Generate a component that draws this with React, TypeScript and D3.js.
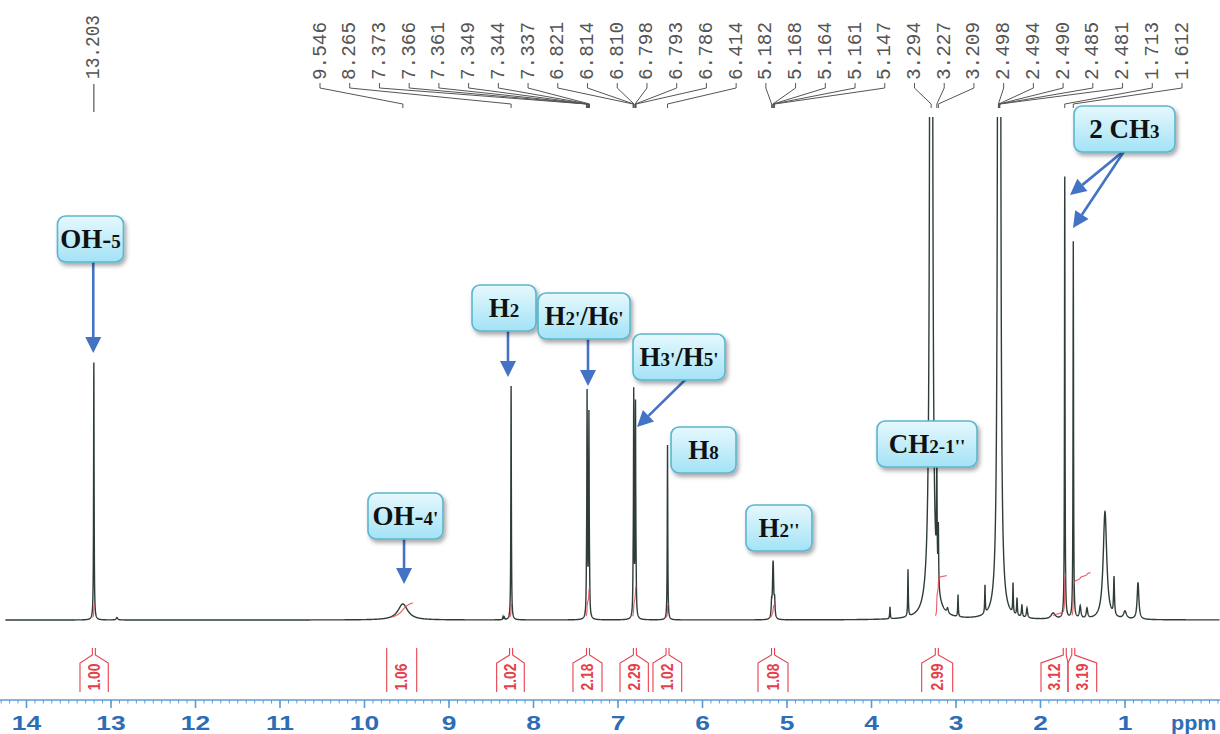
import * as d3 from "d3";

const W = 1220;
const H = 734;

// axis ticks (ppm)
const ppmTicks = [14, 13, 12, 11, 10, 9, 8, 7, 6, 5, 4, 3, 2, 1];

// [shift ppm, height (100 = top of plot), half width ppm]
const signalPeaks: [number, number, number][] = [
  [13.203, 51.5, 0.0035],
  [12.93, 0.5, 0.01],
  [9.546, 3.2, 0.07],
  [8.36, 0.6, 0.004],
  [8.345, 0.5, 0.004],
  [8.265, 46.8, 0.0035],
  [7.373, 5, 0.0035],
  [7.366, 42, 0.0035],
  [7.361, 6, 0.0035],
  [7.349, 5, 0.0035],
  [7.344, 38, 0.0035],
  [7.337, 5, 0.0035],
  [6.821, 5, 0.0035],
  [6.814, 42, 0.0035],
  [6.81, 5, 0.0035],
  [6.798, 5, 0.0035],
  [6.793, 40, 0.0035],
  [6.786, 5, 0.0035],
  [6.414, 35, 0.0035],
  [5.182, 3, 0.006],
  [5.168, 5, 0.006],
  [5.164, 4.5, 0.006],
  [5.161, 4, 0.006],
  [5.147, 3.5, 0.006],
  [3.781, 2.4, 0.004],
  [3.568, 9.4, 0.004],
  [3.227, 22, 0.004],
  [3.209, 12, 0.004],
  [3.1, 1, 0.01],
  [2.976, 4.4, 0.004],
  [2.657, 5.6, 0.004],
  [2.325, 6, 0.004],
  [2.278, 3.5, 0.005],
  [2.22, 2.5, 0.006],
  [2.16, 2, 0.008],
  [1.85, 1.2, 0.03],
  [1.713, 88.4, 0.0035],
  [1.612, 75.4, 0.0035],
  [1.53, 2.5, 0.01],
  [1.45, 2, 0.01],
  [1.237, 21.6, 0.025],
  [1.13, 7.6, 0.006],
  [1.0, 1.5, 0.02],
  [0.846, 7.4, 0.012],
];

// water and DMSO-d5 (off scale)
const solventPeaks: [number, number, number][] = [
  [3.294, 3000, 0.0035],
  [3.3, 6, 0.05],
  [2.498, 400, 0.0025],
  [2.494, 1400, 0.0025],
  [2.49, 2200, 0.0025],
  [2.485, 1400, 0.0025],
  [2.481, 400, 0.0025],
];

const isolatedLabel = "13.203";
const peakLabels = [
  "9.546", "8.265", "7.373", "7.366", "7.361", "7.349", "7.344", "7.337",
  "6.821", "6.814", "6.810", "6.798", "6.793", "6.786", "6.414",
  "5.182", "5.168", "5.164", "5.161", "5.147",
  "3.294", "3.227", "3.209",
  "2.498", "2.494", "2.490", "2.485", "2.481", "1.713", "1.612",
];

const integralValues = ["1.00", "1.06", "1.02", "2.18", "2.29", "1.02", "1.08", "2.99", "3.12", "3.19"];
const integralFrom = [13.367, 9.737, 8.436, 7.533, 6.976, 6.586, 5.343, 3.406, 1.994, 1.675];
const integralTo = [13.032, 9.382, 8.109, 7.189, 6.641, 6.246, 4.988, 3.039, 1.675, 1.335];
const integralCenter: (number | null)[] = [13.203, null, 8.265, 7.355, 6.8, 6.414, 5.165, 3.227, 1.713, 1.612];

type Part = [string, boolean];
type Note = {
  parts: Part[];
  ppm: number;
  top: number;
  width: number;
  arrows: { from: number; to: [number, number] }[];
};

// callouts: box centre (ppm), box top (intensity units), arrow targets
const notes: Note[] = [
  { parts: [["OH-", false], ["5", true]], ppm: 13.243, top: 80.8, width: 66, arrows: [{ from: 13.21, to: [13.21, 53.4] }] },
  { parts: [["OH-", false], ["4'", true]], ppm: 9.515, top: 25.4, width: 75, arrows: [{ from: 9.532, to: [9.532, 7.2] }] },
  { parts: [["H", false], ["2", true]], ppm: 8.349, top: 67, width: 64, arrows: [{ from: 8.302, to: [8.302, 48.6] }] },
  { parts: [["H", false], ["2'", true], ["/H", false], ["6'", true]], ppm: 7.402, top: 65.4, width: 92, arrows: [{ from: 7.355, to: [7.355, 46.8] }] },
  { parts: [["H", false], ["3'", true], ["/H", false], ["5'", true]], ppm: 6.278, top: 57.2, width: 92, arrows: [{ from: 6.183, to: [6.775, 38.6] }] },
  { parts: [["H", false], ["8", true]], ppm: 5.988, top: 38.6, width: 65, arrows: [] },
  { parts: [["H", false], ["2''", true]], ppm: 5.095, top: 23, width: 66, arrows: [] },
  { parts: [["CH", false], ["2-1''", true]], ppm: 3.343, top: 39.8, width: 100, arrows: [] },
  {
    parts: [["2 CH", false], ["3", true]], ppm: 1.006, top: 102.8, width: 101,
    arrows: [{ from: 1.0, to: [1.651, 85] }, { from: 1.0, to: [1.615, 78.4] }],
  },
];

const xScale = d3.scaleLinear().domain([14, 0]).range([26.5, 1209.5]);
const yScale = d3.scaleLinear().domain([0, 100]).range([620, 120]);

const lorentz = (peaks: [number, number, number][], p: number) =>
  d3.sum(peaks, ([c, h, w]) => h / (1 + ((p - c) / w) ** 2));

const allPeaks = [...signalPeaks, ...solventPeaks];
const grid = d3
  .range(14.25, -0.12, -0.002)
  .concat(allPeaks.map((d) => d[0]))
  .sort((a, b) => b - a);
const spectrum: [number, number][] = grid.map((p) => [p, lorentz(allPeaks, p)]);

const line = d3
  .line<[number, number]>()
  .x((d) => xScale(d[0]))
  .y((d) => yScale(d[1]));

const labelX = d3.scalePoint<number>().domain(d3.range(peakLabels.length)).range([320, 1182]);

const BLUE = "#4472c4";
const RED = "#e5404a";
const INK = "#2f3d39";

function integralCurve(i: number) {
  const pts = grid.filter((p) => p <= integralFrom[i] && p >= integralTo[i]);
  const vals = pts.map((p) => lorentz(signalPeaks, p));
  const cum = d3.cumsum(vals);
  const total = cum[cum.length - 1] || 1;
  const rise = 15 * parseFloat(integralValues[i]);
  const out: [number, number][] = [];
  pts.forEach((p, k) => {
    const f = cum[k] / total;
    if (f > 0.05 && f < 0.95) out.push([xScale(p), 618 - rise * f]);
  });
  return d3.line()(out) ?? "";
}

function Arrow({ x1, y1, x2, y2 }: { x1: number; y1: number; x2: number; y2: number }) {
  const dx = x2 - x1;
  const dy = y2 - y1;
  const len = Math.hypot(dx, dy);
  const ux = dx / len;
  const uy = dy / len;
  const head = 16;
  const half = 8;
  const bx = x2 - ux * head;
  const by = y2 - uy * head;
  return (
    <g>
      <line x1={x1} y1={y1} x2={bx} y2={by} stroke={BLUE} strokeWidth={2.6} />
      <polygon
        points={`${x2},${y2} ${bx - uy * half},${by + ux * half} ${bx + uy * half},${by - ux * half}`}
        fill={BLUE}
      />
    </g>
  );
}

export default function App() {
  const boxH = 46;
  const minorTicks = d3.range(-1, 144).map((k) => k / 10);

  return (
    <div style={{ position: "fixed", left: 0, top: 0 }}>
      <svg width={W} height={H} viewBox={`0 0 ${W} ${H}`} style={{ display: "block", background: "#fff" }}>
        <defs>
          <clipPath id="plot">
            <rect x={0} y={117} width={W} height={520} />
          </clipPath>
          <linearGradient id="box" x1="0" y1="0" x2="0" y2="1">
            <stop offset="0" stopColor="#e6f8fd" />
            <stop offset="1" stopColor="#a3e3f6" />
          </linearGradient>
          <filter id="shadow" x="-20%" y="-20%" width="150%" height="160%">
            <feDropShadow dx="2" dy="3" stdDeviation="2" floodColor="#000" floodOpacity="0.35" />
          </filter>
        </defs>

        {/* peak picking labels */}
        <g fontFamily="'Liberation Mono', 'DejaVu Sans Mono', monospace" fontSize={20} fill="#555">
          <text
            transform={`translate(${xScale(13.203)},79) rotate(-90)`}
            dominantBaseline="central"
            textLength={64}
            lengthAdjust="spacingAndGlyphs"
          >
            {isolatedLabel}
          </text>
          <line x1={xScale(13.203)} x2={xScale(13.203)} y1={84} y2={112} stroke="#555" strokeWidth={1.2} />
          {peakLabels.map((lab, i) => {
            const lx = labelX(i) ?? 0;
            const px = xScale(parseFloat(lab));
            return (
              <g key={i}>
                <text
                  transform={`translate(${lx},80) rotate(-90)`}
                  dominantBaseline="central"
                  textLength={58}
                  lengthAdjust="spacingAndGlyphs"
                >
                  {lab}
                </text>
                <path d={`M${lx},83 V88 L${px},104 V108`} fill="none" stroke="#555" strokeWidth={1} />
              </g>
            );
          })}
        </g>

        {/* spectrum */}
        <g clipPath="url(#plot)">
          <path d={line(spectrum) ?? ""} fill="none" stroke={INK} strokeWidth={1.4} />
        </g>

        {/* integral traces */}
        <g fill="none" stroke={RED} strokeWidth={1.1} opacity={0.85}>
          {integralValues.map((_, i) => (
            <path key={i} d={integralCurve(i)} />
          ))}
        </g>

        {/* integral labels */}
        <g stroke={RED} strokeWidth={1.1} fill="none">
          {integralValues.map((v, i) => {
            const L = xScale(integralFrom[i]);
            const R = xScale(integralTo[i]);
            const c = integralCenter[i];
            const d =
              c == null
                ? `M${L},692 V648 M${R},692 V648`
                : `M${L},692 V663 L${xScale(c) - 1.5},655 V648 M${xScale(c) + 1.5},648 V655 L${R},663 V692`;
            return (
              <g key={i}>
                <path d={d} />
                <text
                  transform={`translate(${(L + R) / 2},677) rotate(-90)`}
                  textAnchor="middle"
                  dominantBaseline="central"
                  fill={RED}
                  stroke="none"
                  fontFamily="'Liberation Sans', Arial, sans-serif"
                  fontWeight="bold"
                  fontSize={17}
                  textLength={27}
                  lengthAdjust="spacingAndGlyphs"
                >
                  {v}
                </text>
              </g>
            );
          })}
        </g>

        {/* ppm axis */}
        <g>
          <line x1={0} x2={W} y1={700} y2={700} stroke="#5b9bd5" strokeWidth={1.6} />
          {minorTicks.map((t) => (
            <line key={t} x1={xScale(t)} x2={xScale(t)} y1={700} y2={703.5} stroke="#5b9bd5" strokeWidth={1} />
          ))}
          {ppmTicks.map((t) => (
            <g key={t}>
              <line x1={xScale(t)} x2={xScale(t)} y1={700} y2={708} stroke="#5b9bd5" strokeWidth={1.6} />
              <text
                transform={`translate(${xScale(t)},730) scale(1.32,1)`}
                textAnchor="middle"
                fill="#2d6db6"
                fontFamily="'Liberation Sans', Arial, sans-serif"
                fontWeight="bold"
                fontSize={20}
              >
                {t}
              </text>
            </g>
          ))}
          <text
            transform={`translate(${W - 49},730) scale(1.08,1)`}
            fill="#2d6db6"
            fontFamily="'Liberation Sans', Arial, sans-serif"
            fontWeight="bold"
            fontSize={20}
          >
            ppm
          </text>
        </g>

        {/* callouts */}
        <g>
          {notes.map((n, i) => {
            const cx = xScale(n.ppm);
            const top = yScale(n.top);
            return (
              <g key={i}>
                {n.arrows.map((a, k) => (
                  <Arrow key={k} x1={xScale(a.from)} y1={top + boxH - 2} x2={xScale(a.to[0])} y2={yScale(a.to[1])} />
                ))}
                <rect
                  x={cx - n.width / 2}
                  y={top}
                  width={n.width}
                  height={boxH}
                  rx={8}
                  fill="url(#box)"
                  stroke="#5cb5ce"
                  strokeWidth={1.6}
                  filter="url(#shadow)"
                />
                <text
                  x={cx}
                  y={top + 32}
                  textAnchor="middle"
                  fontFamily="'Liberation Serif', 'DejaVu Serif', serif"
                  fontWeight="bold"
                  fill="#111"
                >
                  {n.parts.map(([s, small], k) => (
                    <tspan key={k} fontSize={small ? 19 : 27}>
                      {s}
                    </tspan>
                  ))}
                </text>
              </g>
            );
          })}
        </g>
      </svg>
    </div>
  );
}
